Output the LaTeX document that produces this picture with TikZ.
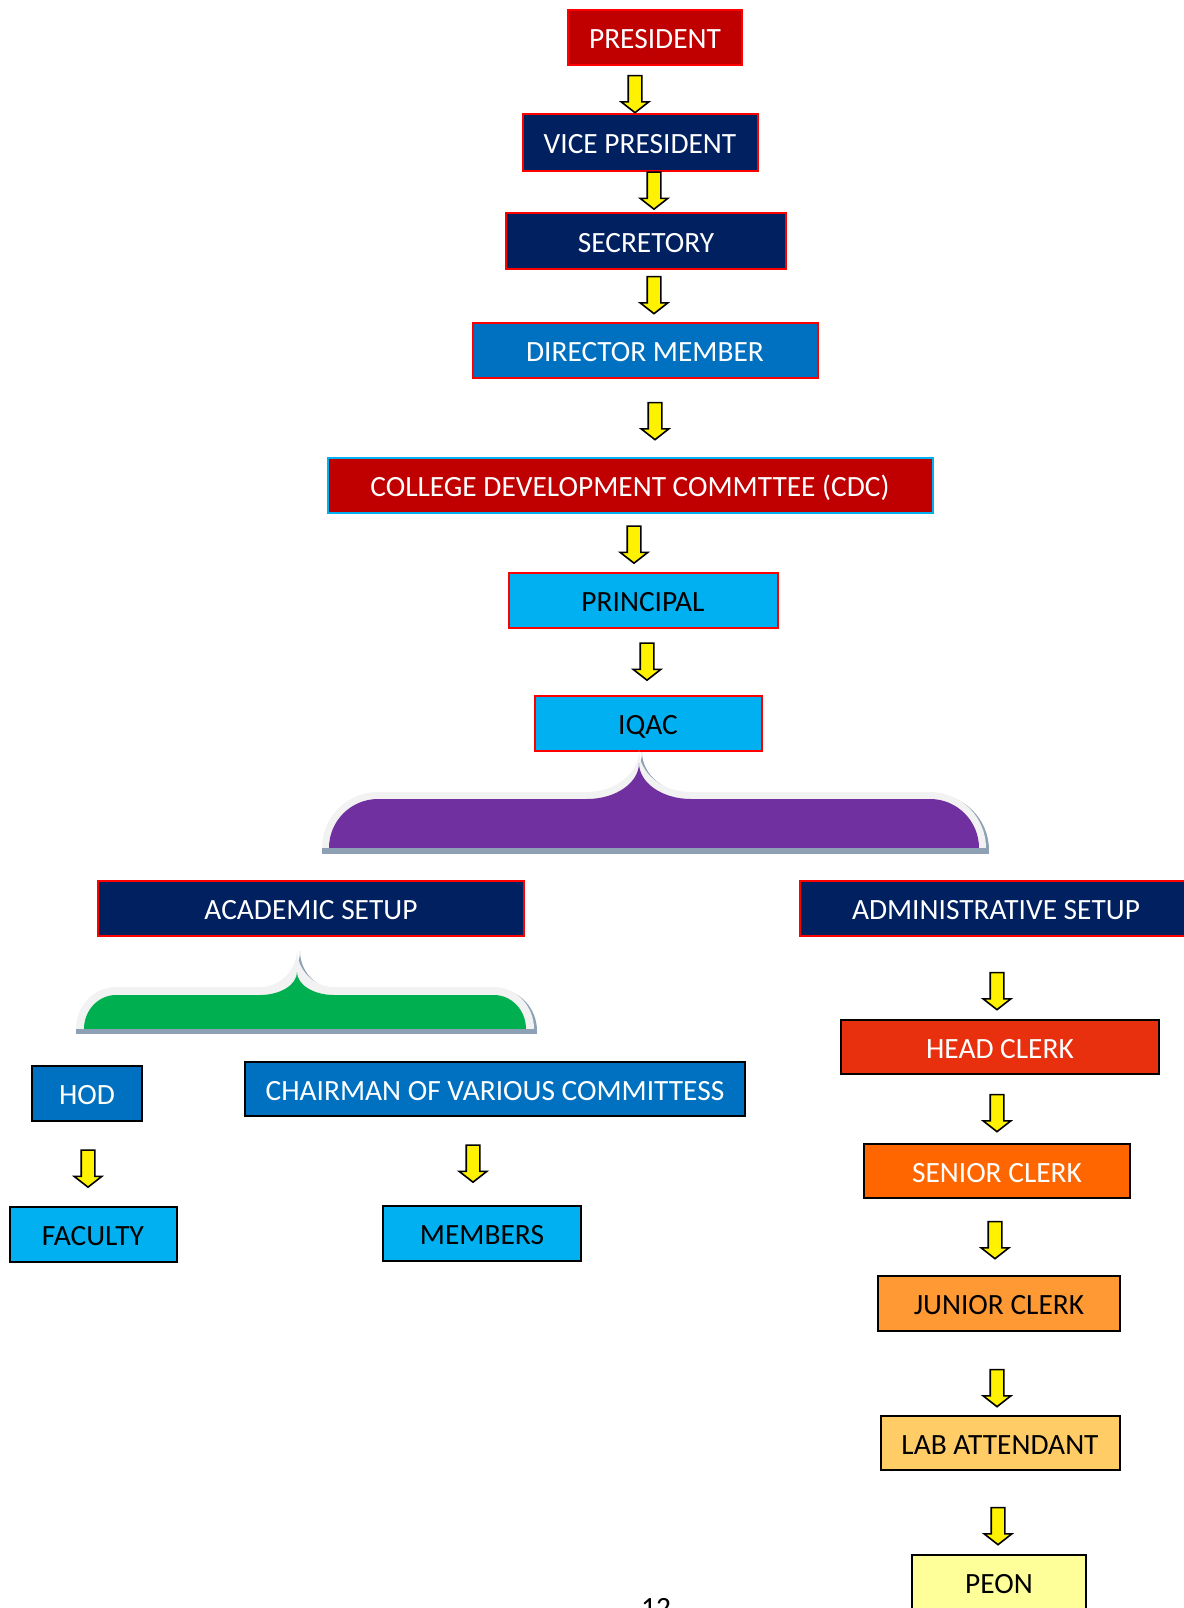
\documentclass[tikz,border=0pt]{standalone}
\usepackage{fontspec}
\setmainfont{Carlito}
\usepackage{tikz}
\usepackage{xcolor}
\usetikzlibrary{shapes.arrows}

\definecolor{darkred}{HTML}{C00000}
\definecolor{navy}{HTML}{002060}
\definecolor{midblue}{HTML}{0070C0}
\definecolor{skyblue}{HTML}{00B0F0}
\definecolor{headred}{HTML}{E8300F}
\definecolor{seniororange}{HTML}{FF6600}
\definecolor{juniororange}{HTML}{FF9933}
\definecolor{labgold}{HTML}{FFCC66}
\definecolor{peonyellow}{HTML}{FFFF99}
\definecolor{bracepurple}{HTML}{7030A0}
\definecolor{bracegreen}{HTML}{00B050}
\definecolor{rimgray}{HTML}{F2F2F2}
\definecolor{shadowgray}{HTML}{8EA0B4}

% brace outline: left, right, base, top, apex x, apex y, cusp half width, corner radius
\newcommand{\bracepath}[8]{%
  ({#1},{#3}) .. controls ({#1},{#3-0.552*(#3-#4)}) and ({#1+#8-0.552*#8},{#4}) .. ({#1+#8},{#4})
  -- ({#5-#7},{#4}) .. controls ({#5-#7+0.552*#7},{#4}) and ({#5},{#6+0.552*(#4-#6)}) .. ({#5},{#6})
  .. controls ({#5},{#6+0.552*(#4-#6)}) and ({#5+#7-0.552*#7},{#4}) .. ({#5+#7},{#4})
  -- ({#2-#8},{#4}) .. controls ({#2-#8+0.552*#8},{#4}) and ({#2},{#3-0.552*(#3-#4)}) .. ({#2},{#3}) -- cycle}

\begin{document}
\begin{tikzpicture}[
    x=0.5pt, y=-0.5pt,
    font=\fontsize{14.7}{17}\selectfont,
    box/.style={draw, line width=1pt, inner sep=0pt, minimum height=27.5pt,
        text height=11pt, text depth=0pt},
    topbox/.style={box, draw=red, text=white},
    lightbox/.style={box, draw=red, fill=skyblue, text=black},
    blackbox/.style={box, draw=black},
    down/.style={single arrow, draw=black, fill=yellow, line width=0.8pt, rotate=-90,
        inner xsep=0pt, inner ysep=3pt, minimum height=18.5pt,
        single arrow head extend=3.5pt, single arrow tip angle=104}
]
\useasboundingbox (0,0) rectangle (1184,1608);

% top chain
\node[topbox, fill=darkred, minimum width=87pt] (pres) at (655,37) {PRESIDENT};
\node[topbox, fill=navy, minimum width=117.5pt, minimum height=28.5pt] (vp) at (640,142) {VICE PRESIDENT};
\node[topbox, fill=navy, minimum width=140pt, minimum height=28pt] (sec) at (646,241) {SECRETORY};
\node[topbox, fill=midblue, minimum width=172.5pt] (dir) at (645,350) {DIRECTOR MEMBER};
\node[topbox, draw=skyblue, fill=darkred, minimum width=302.5pt] (cdc) at (630,485) {COLLEGE DEVELOPMENT COMMTTEE (CDC)};
\node[lightbox, minimum width=134.5pt] (prin) at (643,600) {PRINCIPAL};
\node[lightbox, minimum width=113.5pt] (iqac) at (648,723) {IQAC};

\node[down] (a1) at (635,91.5) {};
\node[down] (a2) at (654,188) {};
\node[down] (a3) at (654,292.5) {};
\node[down] (a4) at (655,418.5) {};
\node[down] (a5) at (634,542) {};
\node[down] (a6) at (647,659) {};

% purple brace
\fill[shadowgray, shift={(3,2)}] \bracepath{322}{986}{848}{792}{639}{750}{52}{56};
\fill[rimgray] \bracepath{322}{986}{848}{792}{639}{750}{52}{56};
\fill[bracepurple] \bracepath{329}{979}{848}{799}{639}{763}{52}{49};
\fill[shadowgray] (322,848) rectangle (989,854);

% two setups
\node[topbox, fill=navy, minimum width=213pt] (acad) at (311,908) {ACADEMIC SETUP};
\node[topbox, fill=navy, minimum width=196pt] (admin) at (996,908) {ADMINISTRATIVE SETUP};

% green brace
\fill[shadowgray, shift={(3,2)}] \bracepath{76}{534}{1029}{987}{297}{949}{37}{40};
\fill[rimgray] \bracepath{76}{534}{1029}{987}{297}{949}{37}{40};
\fill[bracegreen] \bracepath{84}{526}{1029}{995}{297}{972}{37}{32};
\fill[shadowgray] (76,1029) rectangle (537,1034);

% academic side
\node[blackbox, fill=midblue, text=white, minimum width=55pt] (hod) at (87,1093) {HOD};
\node[blackbox, fill=skyblue, minimum width=83.5pt] (fac) at (93,1234) {FACULTY};
\node[blackbox, fill=midblue, text=white, minimum width=250pt, minimum height=27pt] (chair) at (495,1089) {CHAIRMAN OF VARIOUS COMMITTESS};
\node[blackbox, fill=skyblue, minimum width=99pt] (mem) at (482,1233) {MEMBERS};
\node[down] (a7) at (88,1166) {};
\node[down] (a8) at (473,1161) {};

% administrative side
\node[blackbox, fill=headred, text=white, minimum width=159pt, minimum height=27pt] (head) at (1000,1047) {HEAD CLERK};
\node[blackbox, fill=seniororange, text=white, minimum width=133pt, minimum height=27pt] (sen) at (997,1171) {SENIOR CLERK};
\node[blackbox, fill=juniororange, minimum width=121pt] (jun) at (999,1303) {JUNIOR CLERK};
\node[blackbox, fill=labgold, minimum width=119.5pt, minimum height=27pt] (lab) at (1000,1443) {LAB ATTENDANT};
\node[blackbox, fill=peonyellow, minimum width=87pt] (peon) at (999,1582) {PEON};
\node[down] (a9) at (997,988.5) {};
\node[down] (a10) at (997,1110.5) {};
\node[down] (a11) at (995,1237.5) {};
\node[down] (a12) at (997,1385.5) {};
\node[down] (a13) at (998,1523.5) {};

% page number, cut by the page edge
\node[anchor=north, inner sep=0pt] (pageno) at (656,1598) {12};
\end{tikzpicture}
\end{document}
